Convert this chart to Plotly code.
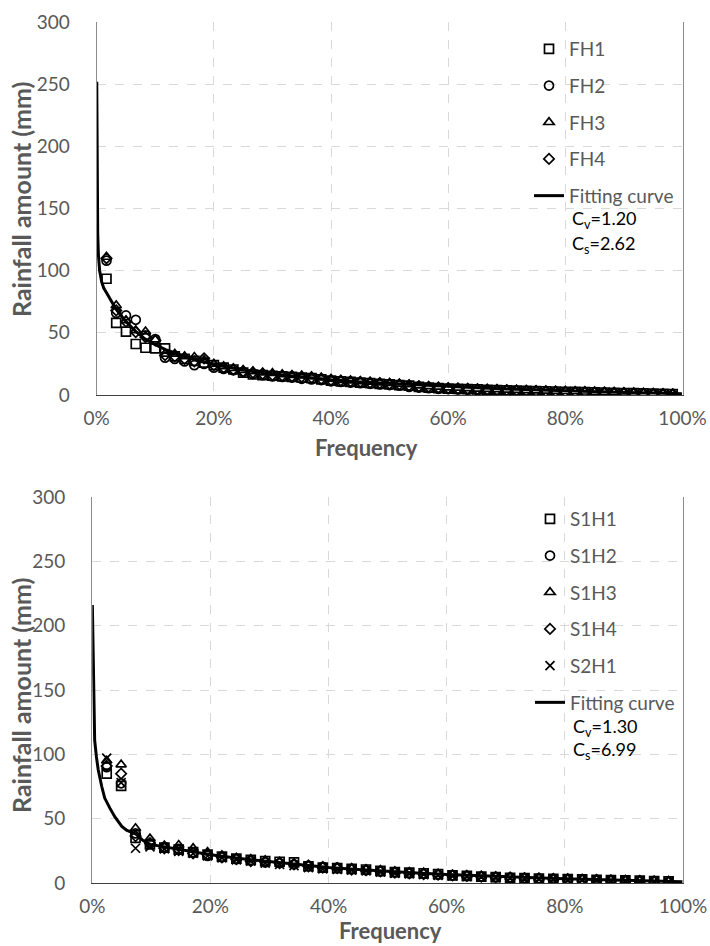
import plotly.graph_objects as go

# ---------------- data: top chart (FH) ----------------
fh_freq_pct = [1.67, 3.33, 5.00, 6.67, 8.33, 10.00, 11.67, 13.33, 15.00, 16.67,
               18.33, 20.00, 21.67, 23.33, 25.00, 26.67, 28.33, 30.00, 31.67, 33.33,
               35.00, 36.67, 38.33, 40.00, 41.67, 43.33, 45.00, 46.67, 48.33, 50.00,
               51.67, 53.33, 55.00, 56.67, 58.33, 60.00, 61.67, 63.33, 65.00, 66.67,
               68.33, 70.00, 71.67, 73.33, 75.00, 76.67, 78.33, 80.00, 81.67, 83.33,
               85.00, 86.67, 88.33, 90.00, 91.67, 93.33, 95.00, 96.67, 98.33]

fh1 = [93.5, 58, 51, 41, 38, 37.5, 37.5, 31, 29, 27.5,
       26, 24, 22, 20.5, 18, 16.5, 16, 15.5, 15, 14.5,
       14, 13.5, 12.5, 11.5, 11, 10.5, 10, 9.5, 9, 8.5,
       8, 7.5, 6.5, 6, 5.5, 5.2, 5, 4.8, 4.5, 4.2,
       4, 3.8, 3.5, 3.3, 3.1, 3, 2.8, 2.6, 2.5, 2.3,
       2.2, 2, 1.8, 1.6, 1.5, 1.3, 1.1, 1, 0.8]
fh2 = [108, 66, 64, 60.5, 48, 45, 30, 29, 27, 24,
       25, 22, 21, 20, 18.5, 17, 16, 15, 14.5, 14,
       13, 12.5, 12, 11, 10.5, 10, 9.5, 9, 8.5, 8,
       7.5, 6.5, 6, 5.5, 5, 4.8, 4.5, 4.3, 4, 3.8,
       3.6, 3.4, 3.2, 3, 2.8, 2.6, 2.5, 2.3, 2.2, 2,
       1.9, 1.7, 1.5, 1.4, 1.2, 1, 0.8, 0.6, 0.3]
fh3 = [111, 72, 60, 52, 51, 44.5, 33, 33, 31, 30.5,
       28, 25, 23, 21.5, 20, 19, 18, 17.5, 16.5, 16,
       15.5, 15, 14, 13, 12, 11.5, 11, 10.5, 10, 9.5,
       9, 8.5, 7.5, 7, 6.5, 6, 5.7, 5.4, 5, 4.7,
       4.5, 4.2, 4, 3.8, 3.5, 3.3, 3.1, 3, 2.8, 2.6,
       2.4, 2.2, 2, 1.8, 1.6, 1.4, 1.2, 1, 0.8]
fh4 = [110, 68, 59, 50.5, 46.5, 44, 32, 31, 29, 27,
       29.5, 24, 22, 20.5, 19, 18, 17, 16, 15.5, 15,
       14.5, 14, 13, 12, 11.5, 11, 10.5, 10, 9.5, 9,
       8.5, 7.5, 7, 6.5, 6, 5.5, 5.2, 5, 4.7, 4.4,
       4.2, 4, 3.7, 3.5, 3.3, 3.1, 2.9, 2.7, 2.5, 2.4,
       2.2, 2, 1.8, 1.6, 1.4, 1.2, 1, 0.8, 0.6]

fit1_freq_pct = [0.01, 0.05, 0.1, 0.17, 0.3, 0.5, 0.85, 1.2, 1.7, 2.5,
                 3.3, 5, 6.7, 8.3, 10, 12, 15, 20, 25, 30,
                 35, 40, 45, 50, 55, 60, 65, 70, 75, 80,
                 85, 90, 95, 99, 99.9]
fit1_val = [252, 190, 160, 130, 112, 100, 91, 86, 82, 75,
            69, 59, 51, 45, 40.5, 36, 31, 24.5, 20, 16.8,
            14.2, 12.2, 10.5, 9.2, 8, 6.8, 5.8, 4.9, 4.1, 3.4,
            2.7, 2.1, 1.6, 1.2, 1.0]

# ---------------- data: bottom chart (S) ----------------
s_freq_pct = [2.44, 4.88, 7.32, 9.76, 12.20, 14.63, 17.07, 19.51, 21.95, 24.39,
              26.83, 29.27, 31.71, 34.15, 36.59, 39.02, 41.46, 43.90, 46.34, 48.78,
              51.22, 53.66, 56.10, 58.54, 60.98, 63.41, 65.85, 68.29, 70.73, 73.17,
              75.61, 78.05, 80.49, 82.93, 85.37, 87.80, 90.24, 92.68, 95.12, 97.56]

s1h1 = [85, 75.5, 35, 30, 27.5, 26, 24, 22, 20.5, 19,
        18, 17, 16.5, 16, 13, 12, 11.5, 11, 10.5, 9.5,
        8.5, 8, 7.5, 7, 6, 5.5, 5, 4.5, 4, 3.8,
        3.5, 3.2, 3, 2.8, 2.5, 2.2, 2, 1.8, 1.5, 1.2]
s1h2 = [90, 77.5, 38.5, 30.5, 28, 26.5, 23.5, 21, 20, 18.5,
        17.5, 16, 15.5, 14.5, 13.5, 12.5, 12, 11, 10, 9,
        8.5, 7.5, 7, 6.5, 6, 5.5, 5, 4.5, 4.2, 3.8,
        3.5, 3.2, 3, 2.7, 2.5, 2.2, 2, 1.7, 1.4, 1]
s1h3 = [95, 92, 42.5, 34.5, 29, 29.5, 27, 24, 21.5, 19.5,
        18.5, 17.5, 16.5, 15, 14, 13, 12, 11.5, 10.5, 10,
        9, 8.5, 8, 7, 6.5, 6, 5.5, 5, 4.5, 4,
        3.7, 3.4, 3.1, 2.9, 2.6, 2.3, 2, 1.8, 1.5, 1.2]
s1h4 = [91, 85, 36.5, 31, 27, 25.5, 23, 22, 20, 18.5,
        17, 16.5, 15.5, 14.5, 13, 12, 11.5, 10.5, 10, 9,
        8, 7.5, 7, 6.5, 6, 5.5, 5, 4.6, 4.2, 3.8,
        3.5, 3.2, 2.9, 2.7, 2.4, 2.1, 1.9, 1.6, 1.3, 1]
s2h1 = [97, 78, 27, 28, 26.5, 24.5, 23, 21, 19.5, 18,
        17, 15.5, 14.5, 13.5, 12, 11, 10.5, 10, 9.5, 8.5,
        7.5, 7, 6.5, 6, 5.5, 5, 4.5, 4.2, 3.8, 3.5,
        3.2, 3, 2.7, 2.5, 2.2, 2, 1.8, 1.5, 1.2, 0.9]

fit2_freq_pct = [0.01, 0.1, 0.2, 0.4, 0.7, 1, 1.6, 2.1, 3, 3.8,
                 5, 5.8, 7.4, 8.6, 9.8, 12.3, 14.8, 17.4, 20, 25,
                 30, 35, 40, 45, 50, 55, 60, 65, 70, 75,
                 80, 85, 90, 95, 99.9]
fit2_val = [216, 184, 147, 111, 98, 88, 75, 66, 58, 51.5,
            44, 41, 38, 33, 30, 28, 26, 24, 22, 19,
            16.5, 14, 12, 10.5, 9, 7.8, 6.7, 5.7, 4.8, 4,
            3.3, 2.6, 2, 1.4, 1]

top_names = ["FH1", "FH2", "FH3", "FH4"]
bot_names = ["S1H1", "S1H2", "S1H3", "S1H4", "S2H1"]
x_ticks_pct = [0, 20, 40, 60, 80, 100]
y_ticks = [0, 50, 100, 150, 200, 250, 300]
top_params = ["C<sub>v</sub>=1.20", "C<sub>s</sub>=2.62"]
bot_params = ["C<sub>v</sub>=1.30", "C<sub>s</sub>=6.99"]

# ---------------- styling ----------------
FONT = "Lato"
GRAY = "#595959"
W, H = 710, 946

def pf(v):
    return [p / 100.0 for p in v]

symbols_top = ["square-open", "circle-open", "triangle-up-open", "diamond-open"]
symbols_bot = ["square-open", "circle-open", "triangle-up-open", "diamond-open", "x-thin-open"]
sizes = {"square-open": 9, "circle-open": 9, "triangle-up-open": 9,
         "diamond-open": 8, "x-thin-open": 9}

fig = go.Figure()

for i, (name, ys) in enumerate(zip(top_names, [fh1, fh2, fh3, fh4])):
    sym = symbols_top[i]
    fig.add_trace(go.Scatter(
        x=pf(fh_freq_pct), y=ys, mode="markers", name=name,
        xaxis="x", yaxis="y", legend="legend", legendgroup="t%d" % i,
        marker=dict(symbol=sym, size=sizes[sym], color="black",
                    line=dict(color="black", width=1.7))))
fig.add_trace(go.Scatter(
    x=pf(fit1_freq_pct), y=fit1_val, mode="lines", name="Fitting curve",
    xaxis="x", yaxis="y", legend="legend", legendgroup="tfit",
    line=dict(color="black", width=3)))

for i, (name, ys) in enumerate(zip(bot_names, [s1h1, s1h2, s1h3, s1h4, s2h1])):
    sym = symbols_bot[i]
    fig.add_trace(go.Scatter(
        x=pf(s_freq_pct), y=ys, mode="markers", name=name,
        xaxis="x2", yaxis="y2", legend="legend2", legendgroup="b%d" % i,
        marker=dict(symbol=sym, size=sizes[sym], color="black",
                    line=dict(color="black", width=1.7))))
fig.add_trace(go.Scatter(
    x=pf(fit2_freq_pct), y=fit2_val, mode="lines", name="Fitting curve",
    xaxis="x2", yaxis="y2", legend="legend2", legendgroup="bfit",
    line=dict(color="black", width=3)))

def xax(domain, anchor):
    return dict(domain=domain, anchor=anchor, range=[0, 1],
                tickvals=pf(x_ticks_pct), tickformat=".0%",
                showgrid=True, gridcolor="#d9d9d9", griddash="dash", gridwidth=1,
                showline=True, linecolor="#404040", linewidth=1.3, mirror=False,
                ticks="", zeroline=False, automargin=False,
                tickfont=dict(family=FONT, size=19, color=GRAY),
                ticklabelstandoff=6)

def yax(domain, anchor):
    return dict(domain=domain, anchor=anchor, range=[0, 300],
                tickvals=y_ticks,
                showgrid=True, gridcolor="#d9d9d9", griddash="dash", gridwidth=1,
                showline=True, linecolor="#8c8c8c", linewidth=1.3, mirror=True,
                ticks="", zeroline=False, automargin=False,
                tickfont=dict(family=FONT, size=19, color=GRAY),
                ticklabelstandoff=22)

top_xd = [96.7 / W, 682.5 / W]
top_yd = [1 - 395 / H, 1 - 22 / H]
bot_xd = [92.3 / W, 683 / W]
bot_yd = [1 - 883 / H, 1 - 497 / H]

legend_common = dict(font=dict(family=FONT, size=19, color=GRAY),
                     bgcolor="rgba(0,0,0,0)", borderwidth=0,
                     traceorder="grouped", tracegroupgap=9,
                     xanchor="left", yanchor="top", itemwidth=30)

annotations = []
# parameter texts
for k, t in enumerate(top_params):
    annotations.append(dict(text=t, xref="paper", yref="paper",
                            x=570 / W, y=1 - (220 + 24 * k) / H,
                            xanchor="left", yanchor="middle", showarrow=False,
                            font=dict(family=FONT, size=18, color="black")))
for k, t in enumerate(bot_params):
    annotations.append(dict(text=t, xref="paper", yref="paper",
                            x=571 / W, y=1 - (727 + 23.5 * k) / H,
                            xanchor="left", yanchor="middle", showarrow=False,
                            font=dict(family=FONT, size=18, color="black")))
# axis titles
for yc in [200, 696]:
    annotations.append(dict(text="<b>Rainfall amount (mm)</b>", xref="paper", yref="paper",
                            x=21 / W, y=1 - yc / H, textangle=-90,
                            xanchor="center", yanchor="middle", showarrow=False,
                            font=dict(family=FONT, size=25, color=GRAY)))
for xc, yc in [(366, 447), (390, 930)]:
    annotations.append(dict(text="<b>Frequency</b>", xref="paper", yref="paper",
                            x=xc / W, y=1 - yc / H,
                            xanchor="center", yanchor="middle", showarrow=False,
                            font=dict(family=FONT, size=22, color=GRAY)))

fig.update_layout(
    width=W, height=H, margin=dict(l=0, r=0, t=0, b=0),
    paper_bgcolor="white", plot_bgcolor="white",
    xaxis=xax(top_xd, "y"), yaxis=yax(top_yd, "x"),
    xaxis2=xax(bot_xd, "y2"), yaxis2=yax(bot_yd, "x2"),
    legend=dict(x=529 / W, y=1 - 30 / H, **legend_common),
    legend2=dict(x=530 / W, y=1 - 500 / H, **legend_common),
    annotations=annotations,
    showlegend=True,
)

fig.write_html("out.html")
